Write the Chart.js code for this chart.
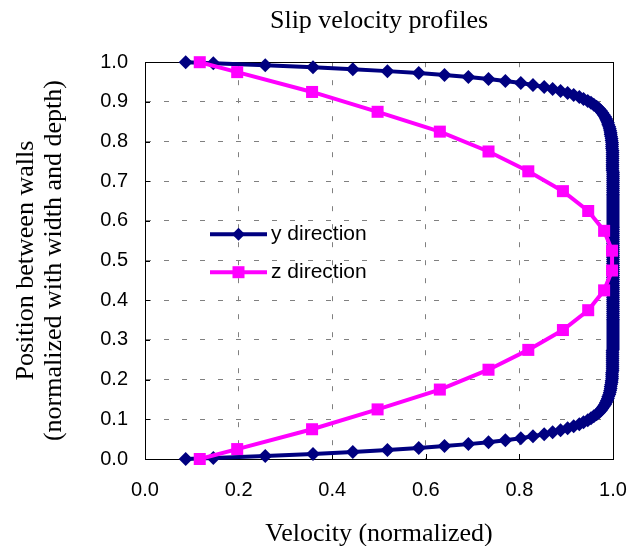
<!DOCTYPE html>
<html>
<head>
<meta charset="utf-8">
<title>Slip velocity profiles</title>
<script src="https://cdn.jsdelivr.net/npm/chart.js@4.4.0/dist/chart.umd.min.js"></script>
<style>
    html, body { margin: 0; padding: 0; background: #fff; }
    #wrap { width: 640px; height: 546px; }
</style>
</head>
<body>
<div id="wrap"><canvas id="slipChart" width="640" height="546"></canvas></div>
<script>
// Slip velocity profiles

// y direction: positions between walls (0.005 cells, plus the two walls)
const yPos = [
    0,
    0.0025, 0.0075, 0.0125, 0.0175, 0.0225, 0.0275, 0.0325, 0.0375, 0.0425, 0.0475,
    0.0525, 0.0575, 0.0625, 0.0675, 0.0725, 0.0775, 0.0825, 0.0875, 0.0925, 0.0975,
    0.1025, 0.1075, 0.1125, 0.1175, 0.1225, 0.1275, 0.1325, 0.1375, 0.1425, 0.1475,
    0.1525, 0.1575, 0.1625, 0.1675, 0.1725, 0.1775, 0.1825, 0.1875, 0.1925, 0.1975,
    0.2025, 0.2075, 0.2125, 0.2175, 0.2225, 0.2275, 0.2325, 0.2375, 0.2425, 0.2475,
    0.2525, 0.2575, 0.2625, 0.2675, 0.2725, 0.2775, 0.2825, 0.2875, 0.2925, 0.2975,
    0.3025, 0.3075, 0.3125, 0.3175, 0.3225, 0.3275, 0.3325, 0.3375, 0.3425, 0.3475,
    0.3525, 0.3575, 0.3625, 0.3675, 0.3725, 0.3775, 0.3825, 0.3875, 0.3925, 0.3975,
    0.4025, 0.4075, 0.4125, 0.4175, 0.4225, 0.4275, 0.4325, 0.4375, 0.4425, 0.4475,
    0.4525, 0.4575, 0.4625, 0.4675, 0.4725, 0.4775, 0.4825, 0.4875, 0.4925, 0.4975,
    0.5025, 0.5075, 0.5125, 0.5175, 0.5225, 0.5275, 0.5325, 0.5375, 0.5425, 0.5475,
    0.5525, 0.5575, 0.5625, 0.5675, 0.5725, 0.5775, 0.5825, 0.5875, 0.5925, 0.5975,
    0.6025, 0.6075, 0.6125, 0.6175, 0.6225, 0.6275, 0.6325, 0.6375, 0.6425, 0.6475,
    0.6525, 0.6575, 0.6625, 0.6675, 0.6725, 0.6775, 0.6825, 0.6875, 0.6925, 0.6975,
    0.7025, 0.7075, 0.7125, 0.7175, 0.7225, 0.7275, 0.7325, 0.7375, 0.7425, 0.7475,
    0.7525, 0.7575, 0.7625, 0.7675, 0.7725, 0.7775, 0.7825, 0.7875, 0.7925, 0.7975,
    0.8025, 0.8075, 0.8125, 0.8175, 0.8225, 0.8275, 0.8325, 0.8375, 0.8425, 0.8475,
    0.8525, 0.8575, 0.8625, 0.8675, 0.8725, 0.8775, 0.8825, 0.8875, 0.8925, 0.8975,
    0.9025, 0.9075, 0.9125, 0.9175, 0.9225, 0.9275, 0.9325, 0.9375, 0.9425, 0.9475,
    0.9525, 0.9575, 0.9625, 0.9675, 0.9725, 0.9775, 0.9825, 0.9875, 0.9925, 0.9975,
    1
];

// y direction: normalized velocity at each position
const yVel = [
    0.087,
    0.146, 0.257, 0.359, 0.444, 0.518, 0.585, 0.640, 0.691, 0.734, 0.770,
    0.803, 0.829, 0.853, 0.871, 0.888, 0.903, 0.916, 0.928, 0.937, 0.946,
    0.953, 0.959, 0.965, 0.970, 0.974, 0.977, 0.980, 0.983, 0.985, 0.987,
    0.989, 0.990, 0.992, 0.993, 0.994, 0.995, 0.995, 0.996, 0.997, 0.997,
    0.998, 0.998, 0.998, 0.998, 0.999, 0.999, 0.999, 0.999, 0.999, 0.999,
    0.999, 0.999, 0.999, 0.999, 0.999, 1.000, 1.000, 1.000, 1.000, 1.000,
    1.000, 1.000, 1.000, 1.000, 1.000, 1.000, 1.000, 1.000, 1.000, 1.000,
    1.000, 1.000, 1.000, 1.000, 1.000, 1.000, 1.000, 1.000, 1.000, 1.000,
    1.000, 1.000, 1.000, 1.000, 1.000, 1.000, 1.000, 1.000, 1.000, 1.000,
    1.000, 1.000, 1.000, 1.000, 1.000, 1.000, 1.000, 1.000, 1.000, 1.000,
    1.000, 1.000, 1.000, 1.000, 1.000, 1.000, 1.000, 1.000, 1.000, 1.000,
    1.000, 1.000, 1.000, 1.000, 1.000, 1.000, 1.000, 1.000, 1.000, 1.000,
    1.000, 1.000, 1.000, 1.000, 1.000, 1.000, 1.000, 1.000, 1.000, 1.000,
    1.000, 1.000, 1.000, 1.000, 1.000, 1.000, 1.000, 1.000, 1.000, 1.000,
    1.000, 1.000, 1.000, 1.000, 1.000, 0.999, 0.999, 0.999, 0.999, 0.999,
    0.999, 0.999, 0.999, 0.999, 0.999, 0.999, 0.998, 0.998, 0.998, 0.998,
    0.997, 0.997, 0.996, 0.995, 0.995, 0.994, 0.993, 0.992, 0.990, 0.989,
    0.987, 0.985, 0.983, 0.980, 0.977, 0.974, 0.970, 0.965, 0.959, 0.953,
    0.946, 0.937, 0.928, 0.916, 0.903, 0.888, 0.871, 0.853, 0.829, 0.803,
    0.770, 0.734, 0.691, 0.640, 0.585, 0.518, 0.444, 0.359, 0.257, 0.146,
    0.087
];

// z direction: positions (0.05 cells, plus the two walls) and velocities
const zPos = [0, 0.025, 0.075, 0.125, 0.175, 0.225, 0.275, 0.325, 0.375, 0.425, 0.475,
              0.525, 0.575, 0.625, 0.675, 0.725, 0.775, 0.825, 0.875, 0.925, 0.975, 1];
const zVel = [0.117, 0.197, 0.357, 0.497, 0.630, 0.734, 0.819, 0.893, 0.947, 0.981, 0.998,
              0.998, 0.981, 0.947, 0.893, 0.819, 0.734, 0.630, 0.497, 0.357, 0.197, 0.117];

const seriesNames = ['y direction', 'z direction'];
const xTickStep = 0.2;
const yTickStep = 0.1;

const NAVY = '#000080';
const MAGENTA = '#FF00FF';
const SERIF = '"Liberation Serif", "Times New Roman", serif';
const SANS = '"Liberation Sans", Arial, sans-serif';

function toPoints(xs, ys) {
    return xs.map(function(x, i) { return { x: x, y: ys[i] }; });
}

// plot frame and the little inside tick marks (drawn under the data)
const frameAndTicks = {
    id: 'frameAndTicks',
    beforeDatasetsDraw(chart) {
        const ctx = chart.ctx;
        const area = chart.chartArea;
        const xs = chart.scales.x;
        const ys = chart.scales.y;
        ctx.save();
        ctx.strokeStyle = '#000';
        ctx.lineWidth = 1;
        ctx.beginPath();
        xs.ticks.forEach(function(t) {
            const px = Math.round(xs.getPixelForValue(t.value)) + 0.5;
            ctx.moveTo(px, area.bottom);
            ctx.lineTo(px, area.bottom - 5);
        });
        ys.ticks.forEach(function(t) {
            const py = Math.round(ys.getPixelForValue(t.value)) + 0.5;
            ctx.moveTo(area.left, py);
            ctx.lineTo(area.left + 5, py);
        });
        ctx.stroke();
        ctx.strokeRect(Math.round(area.left) + 0.5, Math.round(area.top) + 0.5,
                       Math.round(area.right - area.left), Math.round(area.bottom - area.top));
        ctx.restore();
    }
};

function drawMarker(ctx, style, x, y, r, color) {
    ctx.fillStyle = color;
    ctx.beginPath();
    if (style === 'rectRot') {
        ctx.moveTo(x, y - r);
        ctx.lineTo(x + r, y);
        ctx.lineTo(x, y + r);
        ctx.lineTo(x - r, y);
        ctx.closePath();
    } else {
        ctx.rect(x - r, y - r, 2 * r, 2 * r);
    }
    ctx.fill();
}

// legend sitting inside the plot area
const innerLegend = {
    id: 'innerLegend',
    afterDraw(chart) {
        const ctx = chart.ctx;
        const area = chart.chartArea;
        const entries = [
            { ds: chart.data.datasets[1], y: area.top + 172, style: 'rectRot', r: 6.5 },
            { ds: chart.data.datasets[0], y: area.top + 210, style: 'rect', r: 6 }
        ];
        const x0 = 210;
        const x1 = 267;
        ctx.save();
        entries.forEach(function(e) {
            ctx.strokeStyle = e.ds.borderColor;
            ctx.lineWidth = 4;
            ctx.beginPath();
            ctx.moveTo(x0, e.y);
            ctx.lineTo(x1, e.y);
            ctx.stroke();
            drawMarker(ctx, e.style, (x0 + x1) / 2, e.y, e.r, e.ds.borderColor);
            ctx.fillStyle = '#000';
            ctx.font = '21px ' + SANS;
            ctx.textBaseline = 'middle';
            ctx.textAlign = 'left';
            ctx.fillText(e.ds.label, x1 + 4, e.y);
        });
        ctx.restore();
    }
};

const gridColor = function(c) {
    const v = c.tick ? c.tick.value : null;
    return (v === 0 || v === 1) ? 'rgba(0,0,0,0)' : '#808080';
};

const ctx = document.getElementById('slipChart');
new Chart(ctx.getContext('2d'), {
    type: 'scatter',
    data: {
        datasets: [{
            label: seriesNames[1],
            data: toPoints(zVel, zPos),
            showLine: true,
            borderColor: MAGENTA,
            backgroundColor: MAGENTA,
            borderWidth: 4,
            pointStyle: 'rect',
            pointRadius: 8.5,
            pointBorderWidth: 0,
            pointBackgroundColor: MAGENTA,
            tension: 0,
            clip: false,
            order: 0
        }, {
            label: seriesNames[0],
            data: toPoints(yVel, yPos),
            showLine: true,
            borderColor: NAVY,
            backgroundColor: NAVY,
            borderWidth: 4,
            pointStyle: 'rectRot',
            pointRadius: 7,
            pointBorderWidth: 0,
            pointBackgroundColor: NAVY,
            tension: 0,
            clip: false,
            order: 1
        }]
    },
    options: {
        responsive: false,
        animation: false,
        events: [],
        layout: {
            padding: { left: 0, right: 27, top: 0, bottom: 0 }
        },
        plugins: {
            legend: { display: false },
            tooltip: { enabled: false },
            title: {
                display: true,
                text: 'Slip velocity profiles',
                color: '#000',
                fullSize: false,
                font: { family: SERIF, size: 26, weight: 'normal', lineHeight: 1.2 },
                padding: { top: 6, bottom: 25 }
            }
        },
        scales: {
            x: {
                type: 'linear',
                min: 0,
                max: 1,
                afterFit: function(scale) {
                    scale.height = 87;
                    scale.paddingLeft = 0;
                    scale.paddingRight = 0;
                },
                ticks: {
                    stepSize: xTickStep,
                    color: '#000',
                    padding: 19,
                    font: { family: SANS, size: 20 },
                    callback: function(v) { return v.toFixed(1); }
                },
                grid: {
                    color: gridColor,
                    lineWidth: 1,
                    drawTicks: false
                },
                border: { display: true, color: '#000', width: 1, dash: [5, 13] },
                title: {
                    display: true,
                    text: 'Velocity (normalized)',
                    color: '#000',
                    font: { family: SERIF, size: 26, lineHeight: 0.9 },
                    padding: { top: 0, bottom: 0 }
                }
            },
            y: {
                type: 'linear',
                min: 0,
                max: 1,
                afterFit: function(scale) {
                    scale.width = 145;
                    scale.paddingTop = 0;
                    scale.paddingBottom = 0;
                },
                ticks: {
                    stepSize: yTickStep,
                    color: '#000',
                    padding: 17,
                    font: { family: SANS, size: 20 },
                    callback: function(v) { return v.toFixed(1); }
                },
                grid: {
                    color: gridColor,
                    lineWidth: 1,
                    drawTicks: false
                },
                border: { display: true, color: '#000', width: 1, dash: [5, 13] },
                title: {
                    display: true,
                    text: ['Position between walls', '(normalized with width and depth)'],
                    color: '#000',
                    font: { family: SERIF, size: 26, lineHeight: 28 / 26 },
                    padding: { top: 12, bottom: 0 }
                }
            }
        }
    },
    plugins: [frameAndTicks, innerLegend]
});
</script>
</body>
</html>
